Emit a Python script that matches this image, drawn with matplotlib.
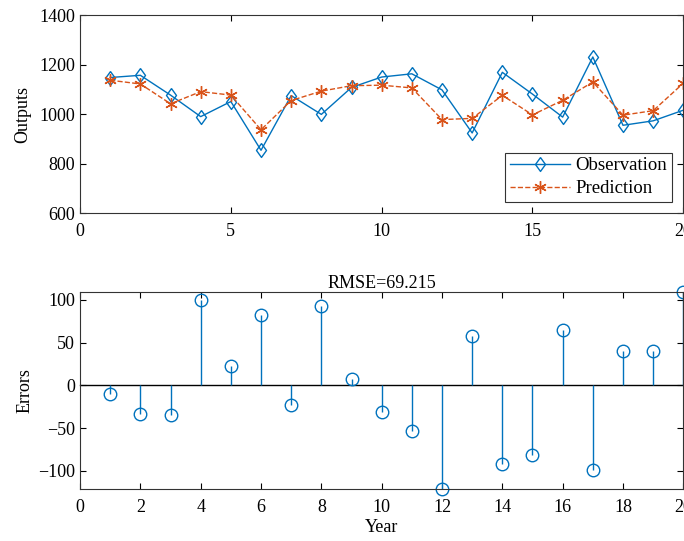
import numpy as np
import matplotlib.pyplot as plt

plt.rcParams['font.family'] = ['Liberation Serif', 'DejaVu Serif']
plt.rcParams['font.size'] = 12

# --- data ---
years = list(range(1, 21))
observation = [1148, 1157, 1077, 990, 1051, 854, 1075, 999, 1108, 1150,
               1163, 1098, 924, 1169, 1081, 988, 1231, 955, 973, 1016]
prediction = [1137, 1122, 1042, 1091, 1077, 937, 1055, 1093, 1115, 1117,
              1106, 978, 983, 1076, 997, 1056, 1130, 996, 1014, 1125]
errors = [-10, -33.5, -35, 99.6, 22.2, 82.5, -23.3, 92.6, 7, -31.5,
          -53.7, -121.4, 57.2, -92.6, -81.7, 65, -99.6, 40, 39.7, 109]
rmse_label = 'RMSE=69.215'

blue = '#0072BD'
orange = '#D95319'
# slightly tall diamond, like the MATLAB one in the figure
diamond = [(0, 1), (0.72, 0), (0, -1), (-0.72, 0), (0, 1)]

fig = plt.figure(figsize=(6.84, 5.41), dpi=100)
ax1 = fig.add_axes([0.117, 0.606, 0.882, 0.366])
ax2 = fig.add_axes([0.117, 0.096, 0.882, 0.364])

# top panel
ax1.plot(years, observation, '-', color=blue, lw=1, marker=diamond, ms=10,
         mfc='none', mec=blue, mew=1, label='Observation')
ax1.plot(years, prediction, '--', color=orange, lw=1, marker=(6, 2, 0), ms=9,
         mec=orange, mew=1, label='Prediction')
ax1.set_xlim(0, 20)
ax1.set_ylim(600, 1400)
ax1.set_xticks([0, 5, 10, 15, 20])
ax1.set_yticks([600, 800, 1000, 1200, 1400])
ax1.set_ylabel('Outputs', fontsize=13, labelpad=6)
leg = ax1.legend(loc='lower right', fancybox=False, edgecolor='#333333',
                 framealpha=1, handlelength=3.2, handletextpad=0.3,
                 borderpad=0.25, borderaxespad=0.6, labelspacing=0.3,
                 fontsize=13.5)
leg.get_frame().set_linewidth(0.8)

# bottom panel
ax2.axhline(0, color='black', lw=1, zorder=1)
markerline, stemlines, baseline = ax2.stem(years, errors)
plt.setp(markerline, marker='o', ms=9, mfc='none', mec=blue, mew=1)
plt.setp(stemlines, color=blue, lw=1)
baseline.set_visible(False)
ax2.set_xlim(0, 20)
ax2.set_ylim(min(errors), max(errors))
ax2.set_xticks(range(0, 21, 2))
ax2.set_yticks([-100, -50, 0, 50, 100])
ax2.set_ylabel('Errors', fontsize=13, labelpad=3)
ax2.set_xlabel('Year', fontsize=13, labelpad=2)
ax2.set_title(rmse_label, fontsize=13, pad=3)

for ax in (ax1, ax2):
    ax.tick_params(direction='in', top=True, right=True, labelsize=13,
                   length=4, width=0.8)
    ax.tick_params(axis='x', pad=7)
    for s in ax.spines.values():
        s.set_linewidth(0.8)
        s.set_color('#333333')
    for ln in ax.lines:
        ln.set_clip_on(False)

fig.savefig('out.png', dpi=100)
